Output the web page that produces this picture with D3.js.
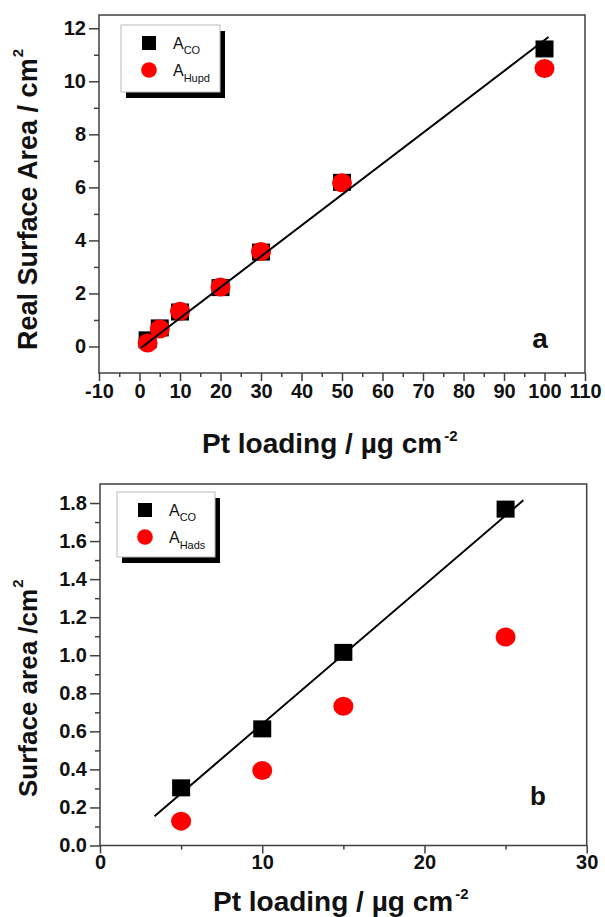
<!DOCTYPE html>
<html><head><meta charset="utf-8">
<script src="https://cdn.jsdelivr.net/npm/d3@7"></script>
<style>
body{margin:0;background:#fff;}
svg{display:block;}
text{font-family:"Liberation Sans",Arial,Helvetica,sans-serif;}
</style>
</head><body>
<svg id="c" width="605" height="917"></svg>
<script>
// ---------- panel a data ----------
const loadingA   = [2, 5, 10, 20, 30, 50, 100];
const areaCO_A   = [0.25, 0.70, 1.30, 2.22, 3.56, 6.19, 11.22];
const areaHupd_A = [0.13, 0.66, 1.33, 2.24, 3.58, 6.17, 10.48];
const fitA_x     = [0.4, 101];
const fitA_y     = [-0.05, 11.67];
const xTicksA    = [-10, 0, 10, 20, 30, 40, 50, 60, 70, 80, 90, 100, 110];
const xMinorA    = [-5, 5, 15, 25, 35, 45, 55, 65, 75, 85, 95, 105];
const yTicksA    = [0, 2, 4, 6, 8, 10, 12];
const yMinorA    = [1, 3, 5, 7, 9, 11];

// ---------- panel b data ----------
const loadingB   = [5, 10, 15, 25];
const areaCO_B   = [0.303, 0.613, 1.015, 1.768];
const areaHads_B = [0.128, 0.394, 0.732, 1.096];
const fitB_x     = [3.36, 26.09];
const fitB_y     = [0.154, 1.814];
const xTicksB    = [0, 10, 20, 30];
const xMinorB    = [5, 15, 25];
const yTicksB    = [0, 0.2, 0.4, 0.6, 0.8, 1.0, 1.2, 1.4, 1.6, 1.8];
const yMinorB    = [0.1, 0.3, 0.5, 0.7, 0.9, 1.1, 1.3, 1.5, 1.7];

const svg = d3.select("#c");
svg.append("rect").attr("width", 605).attr("height", 917).attr("fill", "#fff");

const FRAME = "#404040";
const intFmt = d => String(d);
const decFmt = d => d.toFixed(1);

function panel(cfg) {
  const x = d3.scaleLinear().domain(cfg.xDomain).range(cfg.xRange);
  const y = d3.scaleLinear().domain(cfg.yDomain).range(cfg.yRange);
  const g = svg.append("g");
  if (cfg.clip) {
    const id = "clip" + cfg.name;
    svg.append("defs").append("clipPath").attr("id", id)
      .append("rect").attr("x", 0).attr("y", 0).attr("width", 605).attr("height", cfg.clip);
    g.attr("clip-path", `url(#${id})`);
  }
  const [x0, x1] = cfg.xRange, [y0, y1] = cfg.yRange;

  function styleAxis(s) {
    s.select(".domain").remove();
    s.selectAll(".tick line").attr("stroke", FRAME).attr("stroke-width", 1.5);
    s.selectAll(".tick text").attr("font-size", 20).attr("font-weight", "bold").attr("fill", "#111");
  }
  // x axis
  g.append("g").attr("transform", `translate(0,${y0})`)
    .call(d3.axisBottom(x).tickValues(cfg.xMinor).tickSize(4).tickFormat(""))
    .call(styleAxis);
  g.append("g").attr("transform", `translate(0,${y0})`)
    .call(d3.axisBottom(x).tickValues(cfg.xTicks).tickSize(8).tickPadding(cfg.xPad).tickFormat(cfg.xFmt))
    .call(styleAxis);
  // y axis
  g.append("g").attr("transform", `translate(${x0},0)`)
    .call(d3.axisLeft(y).tickValues(cfg.yMinor).tickSize(5).tickFormat(""))
    .call(styleAxis);
  g.append("g").attr("transform", `translate(${x0},0)`)
    .call(d3.axisLeft(y).tickValues(cfg.yTicks).tickSize(10).tickPadding(3).tickFormat(cfg.yFmt))
    .call(styleAxis);

  // frame
  g.append("rect").attr("x", x0).attr("y", y1).attr("width", x1 - x0).attr("height", y0 - y1)
    .attr("fill", "none").attr("stroke", FRAME).attr("stroke-width", 1.5);

  // markers: squares (CO)
  g.append("g").selectAll("rect").data(cfg.xs).join("rect")
    .attr("x", d => x(d) - 9).attr("y", (d, i) => y(cfg.co[i]) - 8.5)
    .attr("width", 18).attr("height", 17).attr("fill", "#000");
  const line = d3.line().x(d => x(d[0])).y(d => y(d[1]));
  const fitPts = cfg.fitX.map((v, i) => [v, cfg.fitY[i]]);
  // circles (H)
  g.append("g").selectAll("ellipse").data(cfg.xs).join("ellipse")
    .attr("cx", d => x(d)).attr("cy", (d, i) => y(cfg.h[i]))
    .attr("rx", 10).attr("ry", 9.5).attr("fill", "#ff0000");
  // fit line
  g.append("path").attr("d", line(fitPts)).attr("stroke", "#000").attr("stroke-width", 2).attr("fill", "none");

  // legend
  const L = cfg.legend;
  g.append("rect").attr("x", L.x + 5).attr("y", L.y + 6).attr("width", L.w).attr("height", L.h).attr("fill", "#000");
  g.append("rect").attr("x", L.x).attr("y", L.y).attr("width", L.w).attr("height", L.h)
    .attr("fill", "#fff").attr("stroke", "#bbb").attr("stroke-width", 1);
  g.append("rect").attr("x", L.x + 21).attr("y", L.y + 11).attr("width", 14).attr("height", 14).attr("fill", "#000");
  g.append("circle").attr("cx", L.x + 28).attr("cy", L.y + 45).attr("r", 7.8).attr("fill", "#ff0000");
  const lt1 = g.append("text").attr("x", L.x + 52).attr("y", L.y + 24).attr("font-size", 16).attr("fill", "#111");
  lt1.append("tspan").text("A");
  lt1.append("tspan").attr("dy", 5).attr("font-size", 11).text("CO");
  const lt2 = g.append("text").attr("x", L.x + 52).attr("y", L.y + 51).attr("font-size", 16).attr("fill", "#111");
  lt2.append("tspan").text("A");
  lt2.append("tspan").attr("dy", 6).attr("font-size", 11).text(cfg.hName);

  // panel letter
  g.append("text").attr("x", cfg.letter.x).attr("y", cfg.letter.y).attr("text-anchor", "middle")
    .attr("font-size", cfg.letter.size).attr("font-weight", "bold").attr("fill", "#111").text(cfg.letter.t);

  // y title
  const yt = g.append("text").attr("transform", `translate(${cfg.yTitle.x},${cfg.yTitle.y}) rotate(-90)`)
    .attr("font-size", cfg.yTitle.size).attr("font-weight", "bold").attr("fill", "#111");
  yt.append("tspan").text(cfg.yTitle.t);
  yt.append("tspan").attr("dy", -14).attr("dx", 1).attr("font-size", 15).text("2");

  // x title
  const xt = g.append("text").attr("x", cfg.xTitle.x).attr("y", cfg.xTitle.y)
    .attr("font-size", 28).attr("font-weight", "bold").attr("fill", "#111");
  xt.append("tspan").text("Pt loading / µg cm");
  xt.append("tspan").attr("dy", -12).attr("dx", 2).attr("font-size", 15).text("-2");
}

panel({
  name: "a",
  xDomain: [-10, 110], xRange: [99, 585],
  yDomain: [-1, 12.5], yRange: [373, 15],
  xTicks: xTicksA, xMinor: xMinorA, yTicks: yTicksA, yMinor: yMinorA,
  xFmt: intFmt, yFmt: intFmt, xPad: 3,
  xs: loadingA, co: areaCO_A, h: areaHupd_A, hName: "Hupd",
  fitX: fitA_x, fitY: fitA_y,
  legend: {x: 121, y: 25, w: 99, h: 67},
  letter: {x: 540, y: 348, size: 28, t: "a"},
  yTitle: {x: 37, y: 350, size: 27, t: "Real Surface Area / cm"},
  xTitle: {x: 202, y: 453},
  clip: 459
});

panel({
  name: "b",
  xDomain: [0, 30], xRange: [100, 586.7],
  yDomain: [0, 1.9], yRange: [845.5, 484],
  xTicks: xTicksB, xMinor: xMinorB, yTicks: yTicksB, yMinor: yMinorB,
  xFmt: intFmt, yFmt: decFmt, xPad: 1,
  xs: loadingB, co: areaCO_B, h: areaHads_B, hName: "Hads",
  fitX: fitB_x, fitY: fitB_y,
  legend: {x: 117, y: 492, w: 98, h: 65},
  letter: {x: 538, y: 805, size: 26, t: "b"},
  yTitle: {x: 37, y: 797, size: 26, t: "Surface area /cm"},
  xTitle: {x: 213, y: 911},
  clip: null
});
</script>
</body></html>
